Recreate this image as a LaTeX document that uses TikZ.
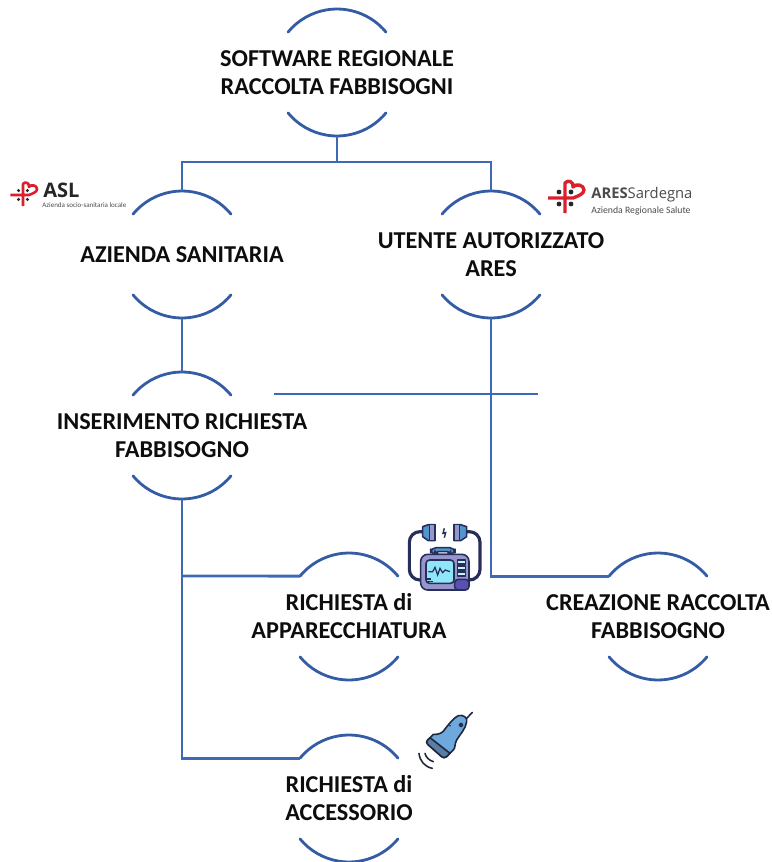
\documentclass[tikz,border=0pt]{standalone}
\usepackage{fontspec}
\setmainfont{Carlito}
\usepackage{tikz}
\usetikzlibrary{calc}
\definecolor{hubline}{RGB}{52, 92, 165}
\definecolor{linkline}{RGB}{62, 105, 182}
\definecolor{logored}{RGB}{220, 30, 45}
\definecolor{logogray}{RGB}{75, 75, 75}
\definecolor{iconnavy}{RGB}{40, 46, 90}
\definecolor{probeblue}{RGB}{111, 168, 220}
\definecolor{probeband}{RGB}{90, 125, 165}
\definecolor{probedark}{RGB}{30, 40, 60}
\definecolor{defibbody}{RGB}{150, 150, 205}
\definecolor{defibdeep}{RGB}{90, 80, 180}
\definecolor{defibscreen}{RGB}{143, 230, 248}
\definecolor{defibblue}{RGB}{80, 150, 205}
\newfontfamily\logofont{Open Sans}
\tikzstyle{hub} = [rectangle, minimum height=2.54cm, inner sep=0pt, align=center, font=\fontsize{13.8}{15.9}\selectfont\bfseries, text=black!95]
\tikzstyle{hubarc} = [draw=hubline, line width=1.6pt, line cap=round]
\tikzstyle{link} = [draw=linkline, line width=1.6pt]
\tikzstyle{logocross} = [draw=logored, line width=1.5pt, line join=round]
\tikzstyle{icon} = [draw=iconnavy, line width=0.9pt, line join=round]
\tikzstyle{probeicon} = [draw=probedark, line width=0.9pt, line join=round, line cap=round]
\begin{document}
\begin{tikzpicture}[x=0.02cm, y=0.02cm]
    \useasboundingbox (0,0) rectangle (771,-862);

    % Hubs
    \node[hub] (software) at (337,-72.5) {SOFTWARE REGIONALE\\RACCOLTA FABBISOGNI};
    \node[hub] (azienda) at (182,-254.5) {AZIENDA SANITARIA};
    \node[hub] (utente) at (491,-254.5) {UTENTE AUTORIZZATO\\ARES};
    \node[hub] (inserimento) at (182,-435.5) {INSERIMENTO RICHIESTA\\FABBISOGNO};
    \node[hub] (apparecchiatura) at (349,-616.5) {RICHIESTA di\\APPARECCHIATURA};
    \node[hub] (creazione) at (658,-616.5) {CREAZIONE RACCOLTA\\FABBISOGNO};
    \node[hub] (accessorio) at (349,-798.5) {RICHIESTA di\\ACCESSORIO};

    % Arcs above and below each hub
    \foreach \n in {software, azienda, utente, inserimento, apparecchiatura, creazione, accessorio} {
        \draw[hubarc] ($(\n.center)+(39.5:1.27cm)$) arc (39.5:140.5:1.27cm);
        \draw[hubarc] ($(\n.center)+(-39.5:1.27cm)$) arc (-39.5:-140.5:1.27cm);
        \coordinate (\n-left) at ($(\n.center)+(140.5:1.27cm)$);
    }

    % Links
    \coordinate (split) at (337,-162);
    \coordinate (branch) at (182,-576);
    \coordinate (crossa) at (274,-394);
    \coordinate (crossb) at (538,-394);
    \draw[link] (software.south) -- (split);
    \draw[link] (split) -| (azienda.north);
    \draw[link] (split) -| (utente.north);
    \draw[link] (azienda.south) -- (inserimento.north);
    \draw[link] (utente.south) |- (creazione-left);
    \draw[link] (inserimento.south) |- (accessorio-left);
    \draw[link] (branch) -- (apparecchiatura-left);
    \draw[link] (crossa) -- (crossb);

    % ASL logo
    \begin{scope}[shift={(23,-195)}, x=0.0148cm, y=0.0148cm]
        \draw[logocross] (-17,0) -- (8,0) .. controls (13,2) and (19,4) .. (19,8)
            .. controls (19,13) and (11,15) .. (8,11)
            .. controls (9,16) and (3,19) .. (0,15) -- (0,-15);
        \foreach \dx/\dy in {-6/6, 6/6, -6/-6, 6/-6} \fill[black!85] (\dx,\dy) circle (2.3);
    \end{scope}
    \node[anchor=west, inner sep=0pt, font=\logofont\fontsize{11.4}{12}\selectfont\bfseries, text=black!85] (asl) at (43,-190) {ASL};
    \node[anchor=west, inner sep=0pt, font=\fontsize{4}{5}\selectfont, text=logogray] (asltext) at (42,-205) {Azienda socio-sanitaria locale};

    % ARES logo
    \begin{scope}[shift={(565,-198)}, x=0.02cm, y=0.02cm]
        \draw[logocross, line width=1.9pt] (-17,0) -- (8,0) .. controls (13,2) and (19,4) .. (19,8)
            .. controls (19,13) and (11,15) .. (8,11)
            .. controls (9,16) and (3,19) .. (0,15) -- (0,-15);
        \foreach \dx/\dy in {-6/6, 6/6, -6/-6, 6/-6} \fill[black!85] (\dx,\dy) circle (2.4);
    \end{scope}
    \node[anchor=west, inner sep=0pt, font=\logofont\fontsize{8.4}{10}\selectfont, text=logogray] (ares) at (591,-195) {\textbf{ARES}Sardegna};
    \node[anchor=west, inner sep=0pt, font=\fontsize{5.55}{7}\selectfont, text=logogray] (arestext) at (591,-211) {Azienda Regionale Salute};

    % Defibrillator
    \begin{scope}[shift={(390,-510)}, x=0.00667cm, y=-0.00667cm]
        \draw[icon, line width=1.8pt, rounded corners=6pt] (100,65) -- (58,65) -- (58,210) -- (92,210);
        \draw[icon, line width=1.8pt, rounded corners=6pt] (225,65) -- (270,65) -- (270,210) -- (237,210);
        \draw[icon, fill=defibblue, rounded corners=3pt] (122,133) -- (122,113) -- (195,113) -- (195,133) -- cycle;
        \draw[icon, fill=white, rounded corners=2pt] (135,133) -- (135,125) -- (182,125) -- (182,133) -- cycle;
        \draw[icon, fill=defibbody, rounded corners=4pt] (92,133) rectangle (237,240);
        \draw[icon, fill=defibdeep, rounded corners=2pt] (194,208) rectangle (237,240);
        \draw[icon, fill=defibscreen, rounded corners=2pt] (108,150) rectangle (192,220);
        \draw[iconnavy, line width=0.7pt] (115,185) -- (128,185) -- (135,172) -- (143,195) -- (150,175) -- (158,188) -- (166,180) -- (180,185);
        \draw[iconnavy, line width=0.7pt] (112,207) -- (124,207) (112,215) -- (130,215);
        \foreach \y in {150,168,186} \draw[icon, line width=0.6pt, fill=defibscreen!50] (203,\y) rectangle (226,\y+12);
        \draw[icon, fill=defibblue] (98,50) -- (115,44) -- (135,44) -- (135,92) -- (115,92) -- (98,80) -- cycle;
        \draw[icon, fill=defibbody] (118,44) rectangle (135,92);
        \draw[icon, fill=defibblue] (230,50) -- (212,44) -- (192,44) -- (192,92) -- (212,92) -- (230,80) -- cycle;
        \draw[icon, fill=defibbody] (192,44) rectangle (209,92);
        \draw[iconnavy, line width=0.8pt] (163,55) -- (159,70) -- (167,68) -- (163,83);
    \end{scope}

    % Probe
    \begin{scope}[shift={(415,-705)}, x=0.00667cm, y=-0.00667cm]
        \draw[probeicon] (155,40) -- (172,22);
        \draw[probeicon, fill=probeblue] (38,105) -- (55,88) .. controls (72,90) and (85,82) .. (90,72)
            .. controls (100,60) and (115,38) .. (130,32)
            .. controls (145,28) and (158,38) .. (155,50)
            .. controls (152,72) and (135,88) .. (125,105)
            .. controls (118,118) and (122,128) .. (115,135)
            -- (95,155) .. controls (90,160) and (85,158) .. (80,155) -- (38,118) .. controls (34,113) and (34,110) .. (38,105) -- cycle;
        \draw[probeicon, fill=probeband] (38,105) -- (45,98) -- (105,145) -- (95,155) .. controls (90,160) and (85,158) .. (80,155) -- (38,118) .. controls (34,113) and (34,110) .. (38,105) -- cycle;
        \draw[probeicon, fill=probeblue!40] (138,60) circle (5);
        \fill[probedark] (105,62) circle (2.5);
        \draw[probeicon] (30,145) .. controls (32,156) and (42,166) .. (55,170);
        \draw[probeicon] (12,145) .. controls (14,168) and (30,186) .. (52,190);
    \end{scope}
\end{tikzpicture}
\end{document}
